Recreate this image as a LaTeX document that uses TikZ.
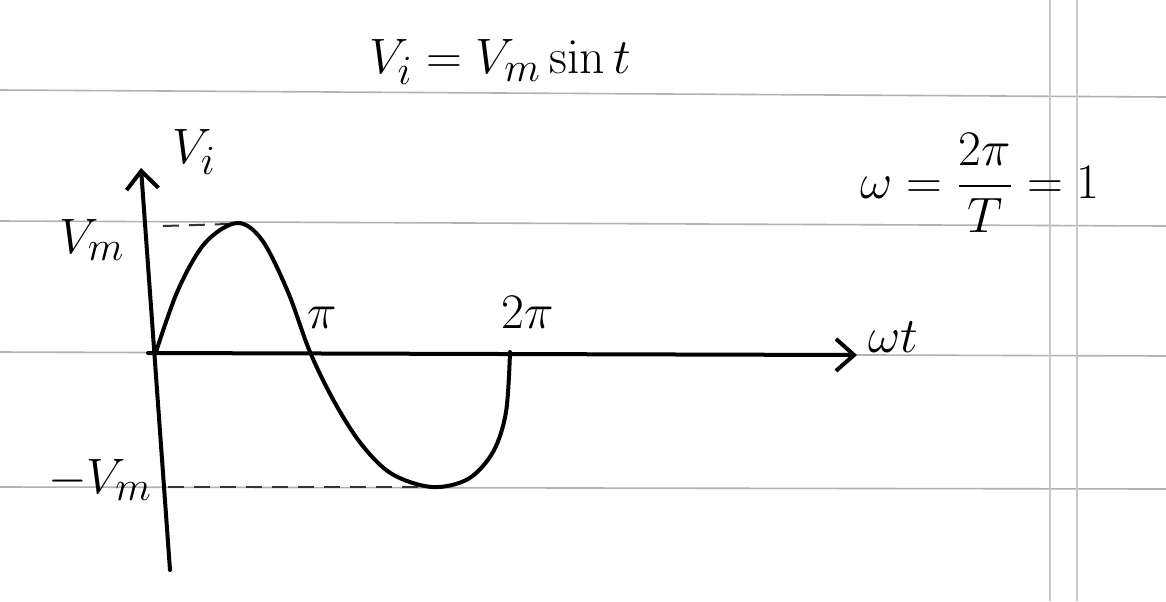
\documentclass[tikz,border=0pt]{standalone}
\usepackage{amsmath}
\usetikzlibrary{arrows.meta}
\begin{document}
\begin{tikzpicture}[x=0.5pt,y=-0.5pt,
  rule/.style={draw=black!30, line width=0.8pt},
  vrule/.style={draw=black!22, line width=0.8pt},
  ink/.style={draw=black, line width=2pt, line cap=round, line join=round},
  guide/.style={draw=black!80, line width=1pt, dash pattern=on 8pt off 5pt},
  lbl/.style={font=\fontsize{28}{32}\selectfont, inner sep=0pt},
  tip/.style={-{Straight Barb[length=9pt,width=16pt,line width=2pt]}},
]
\path[use as bounding box] (0,0) rectangle (1166,601);
\fill[white] (0,0) rectangle (1166,601);
% ruled paper
\draw[rule] (0,90) -- (1166,97);
\draw[rule] (0,221) -- (1166,226);
\draw[rule] (0,352) -- (1166,356);
\draw[rule] (0,487) -- (1166,489);
\draw[vrule] (1050,0) -- (1050,601);
\draw[vrule] (1077,0) -- (1077,601);
% axes
\coordinate (ybot) at (170,570);
\coordinate (ytop) at (141,168);
\coordinate (xl) at (148,353);
\coordinate (xr) at (857,355);
\draw[ink, tip] (ybot) -- (ytop);
\draw[ink, tip] (xl) -- (xr);
% guides
\coordinate (gm1) at (163,226);
\coordinate (gm2) at (228,224);
\coordinate (gn1) at (168,487);
\coordinate (gn2) at (420,487);
\draw[guide] (gm1) -- (gm2);
\draw[guide] (gn1) -- (gn2);
% sine curve
\draw[ink] plot[smooth, tension=0.55] coordinates {(156,352) (178,290) (205,243) (237,223) (262,240) (288,292) (310,352) (335,403) (362,445) (392,474) (432,487) (468,479) (493,452) (506,412) (510,352)};
% labels
\node[lbl] (title) at (500,62) {$V_i = V_m \sin t$};
\node[lbl] (vi) at (194,152) {$V_i$};
\node[lbl] (vm) at (92,240) {$V_m$};
\node[lbl] (mvm) at (100,480) {$-V_m$};
\node[lbl] (pi) at (322,318) {$\pi$};
\node[lbl] (tpi) at (528,312) {$2\pi$};
\node[lbl] (wt) at (893,337) {$\omega t$};
\node[lbl] (omega) at (980,183) {$\omega = \dfrac{2\pi}{T} = 1$};
\end{tikzpicture}
\end{document}
